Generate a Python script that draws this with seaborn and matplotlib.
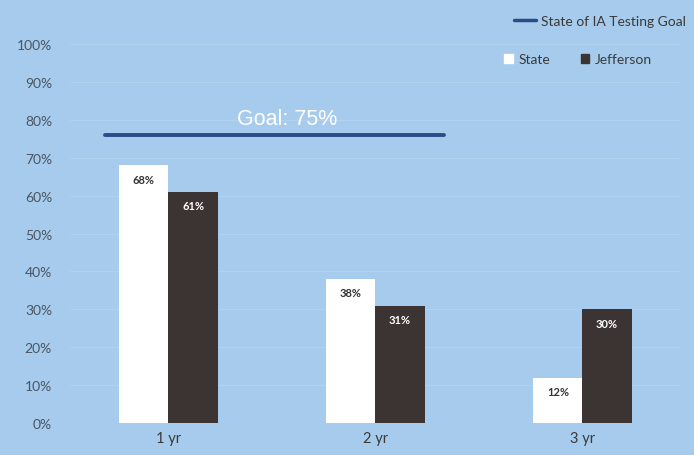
import matplotlib
matplotlib.use("Agg")
import matplotlib.pyplot as plt
import seaborn as sns
import pandas as pd
from matplotlib.lines import Line2D
from matplotlib.patches import Patch

categories = ["1 yr", "2 yr", "3 yr"]
state_values = [68, 38, 12]
jefferson_values = [61, 31, 30]
series_names = ["State", "Jefferson"]
goal_value = 75
goal_label = "Goal: 75%"
goal_legend = "State of IA Testing Goal"
y_ticks = [0, 10, 20, 30, 40, 50, 60, 70, 80, 90, 100]

df = pd.DataFrame({
    "category": categories * 2,
    "value": state_values + jefferson_values,
    "series": [series_names[0]] * 3 + [series_names[1]] * 3,
})

sns.set_theme(style="white")
plt.rcParams["font.family"] = ["Lato", "DejaVu Sans"]

bg = "#a6cbec"
dark = "#3b3432"
fig = plt.figure(figsize=(6.94, 4.56), dpi=100, facecolor=bg)
ax = fig.add_axes([0.101, 0.0702, 0.880, 0.831], facecolor=bg)

sns.barplot(data=df, x="category", y="value", hue="series",
            palette={"State": "white", "Jefferson": dark},
            width=0.475, ax=ax, legend=False, saturation=1,
            linewidth=0)

ax.set_xlim(-0.475, 2.475)
ax.set_ylim(0, 100)
ax.set_yticks(y_ticks)
ax.set_yticklabels([f"{t}%" for t in y_ticks], fontsize=10, color="#4a5563")
ax.tick_params(axis="x", labelsize=10.5, colors="#3a3a3a", length=0, pad=6)
ax.tick_params(axis="y", length=0, pad=13)
ax.set_xlabel("")
ax.set_ylabel("")
ax.grid(axis="y", color="#b0d2ef", linewidth=0.9)
ax.set_axisbelow(True)
for s in ax.spines.values():
    s.set_visible(False)

# value labels inside top of bars
for cont, color in zip(ax.containers, ["#333333", "white"]):
    labels = [f"{v:.0f}%" for v in cont.datavalues]
    ax.bar_label(cont, labels=labels, label_type="edge", padding=-14,
                 fontsize=8, color=color, fontweight="bold")

# goal line
ax.plot([-0.305, 1.33], [goal_value + 1.0, goal_value + 1.0], color="#2a4d87", lw=2.8)
ax.text(0.575, goal_value + 2.6, goal_label, ha="center", va="bottom",
        fontsize=15.5, color="white", family=["Liberation Sans", "DejaVu Sans"])

# legends
fig.legend(handles=[Line2D([0], [0], color="#2a4d87", lw=2.5)], labels=[goal_legend],
           loc="center", bbox_to_anchor=(600 / 694, 1 - 22 / 456), frameon=False,
           fontsize=10, handlelength=1.6, handletextpad=0.4, labelcolor="#3a3a3a")
fig.legend(handles=[Patch(color="white"), Patch(color=dark)], labels=series_names,
           loc="center", bbox_to_anchor=(578 / 694, 1 - 60 / 456), frameon=False,
           fontsize=10, ncol=2, handlelength=0.6, handleheight=0.6,
           handletextpad=0.4, columnspacing=2.2, labelcolor="#3a3a3a")

fig.savefig("out.png", dpi=100, facecolor=bg)
